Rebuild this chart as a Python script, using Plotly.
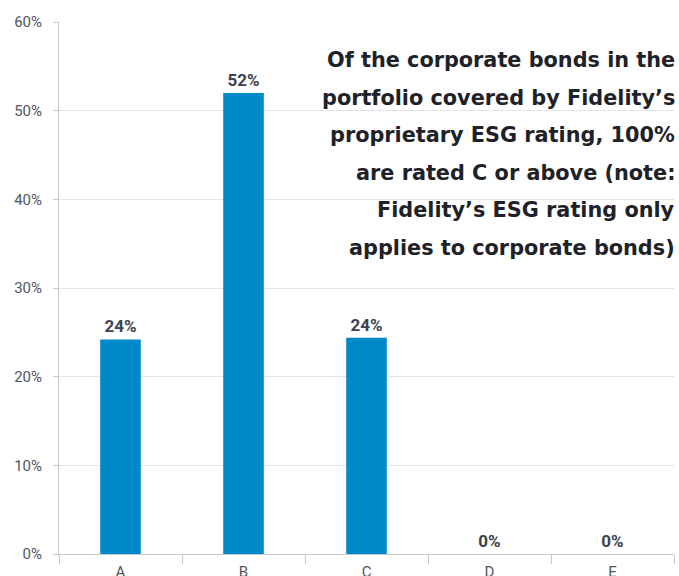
import plotly.graph_objects as go

categories = ["A", "B", "C", "D", "E"]
values = [24.2, 52.0, 24.4, 0, 0]
y_ticks = [0, 10, 20, 30, 40, 50, 60]
y_tick_labels = ["0%", "10%", "20%", "30%", "40%", "50%", "60%"]
note_lines = [
    "Of the corporate bonds in the",
    "portfolio covered by Fidelity’s",
    "proprietary ESG rating, 100%",
    "are rated C or above (note:",
    "Fidelity’s ESG rating only",
    "applies to corporate bonds)",
]

fig = go.Figure(go.Bar(
    x=categories, y=values, width=0.33,
    marker=dict(color="#0089c9", line=dict(width=0)),
    texttemplate="%{y:.0f}%", textposition="outside",
    textfont=dict(family="Liberation Sans Narrow, Roboto", size=17,
                  color="#3d4250", weight="bold"),
    cliponaxis=False,
))

plot_top, plot_bottom = 22, 554
annotations = []
for i, line in enumerate(note_lines):
    ypix = 60 + 37.6 * i
    annotations.append(dict(
        text=line, xref="paper", yref="paper", x=1, xshift=3,
        y=(plot_bottom - ypix) / (plot_bottom - plot_top),
        xanchor="right", yanchor="middle", align="right", showarrow=False,
        font=dict(family="DejaVu Sans", size=20.8, color="#1e2228", weight="bold"),
    ))

fig.update_layout(
    width=679, height=576,
    margin=dict(l=59, r=5, t=22, b=22),
    plot_bgcolor="white", paper_bgcolor="white",
    showlegend=False,
    xaxis=dict(
        automargin=False,
        showline=True, linecolor="#c5cad1", linewidth=1,
        ticks="outside", tickson="boundaries", ticklen=9, tickcolor="#c5cad1",
        ticklabelstandoff=4,
        tickfont=dict(family="Roboto", size=15, color="#4f5560"),
        showgrid=False,
    ),
    yaxis=dict(
        automargin=False,
        range=[0, 60], tickvals=y_ticks, ticktext=y_tick_labels,
        showline=True, linecolor="#c5cad1", linewidth=1,
        ticks="outside", ticklen=5, tickcolor="#c5cad1",
        ticklabelstandoff=8,
        tickfont=dict(family="Roboto", size=15, color="#4f5560"),
        showgrid=True, gridcolor="#e1e4e8", gridwidth=1,
        zeroline=False,
    ),
    annotations=annotations,
)

fig.write_html(
    "out.html",
    config={"displayModeBar": False},
    post_script="document.body.style.margin='0';document.body.style.overflow='hidden';",
)
